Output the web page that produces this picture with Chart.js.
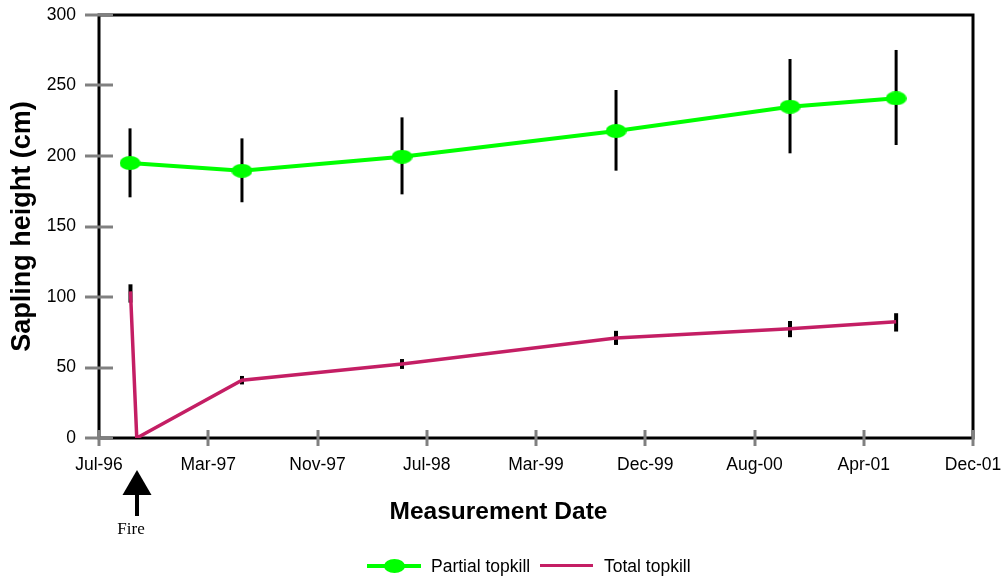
<!DOCTYPE html>
<html>
<head>
<meta charset="utf-8">
<script src="https://cdn.jsdelivr.net/npm/chart.js@4.4.1/dist/chart.umd.min.js"></script>
<style>
  html, body { margin: 0; padding: 0; background: #fff; }
  #wrap { position: relative; width: 1003px; height: 580px; }
  .leg { position: absolute; font-family: Arial, "Liberation Sans", sans-serif; font-size: 17.5px; color: #000; line-height: 20px; top: 556px; }
  .sw { position: absolute; }
</style>
</head>
<body>
<div id="wrap">
  <canvas id="chart" width="1003" height="580"></canvas>
  <div class="sw" style="left:367px;top:564px;width:54px;height:4px;background:#00ff00"></div>
  <div class="sw" style="left:384px;top:559px;width:21px;height:14px;border-radius:50%;background:#00ff00"></div>
  <div class="leg" style="left:431px">Partial topkill</div>
  <div class="sw" style="left:540px;top:564px;width:53px;height:3px;background:#c41e64"></div>
  <div class="leg" style="left:604px">Total topkill</div>
</div>
<script>
// x axis: days since Jul 1996, one tick every 243 days
const tickLabels = ['Jul-96', 'Mar-97', 'Nov-97', 'Jul-98', 'Mar-99', 'Dec-99', 'Aug-00', 'Apr-01', 'Dec-01'];
const tickStep = 243;

const partialDays = [69, 318, 674, 1150, 1537, 1773];
const partialHeight = [195, 189.5, 199.5, 217.7, 235, 240.9];
const partialLow = [170.7, 167.2, 172.8, 189.6, 201.9, 207.8];
const partialHigh = [219.6, 212.5, 227.4, 246.8, 268.8, 275.2];

const totalDays = [70, 84, 318, 674, 1150, 1537, 1773];
const totalHeight = [104, 0, 41, 52.5, 71, 77.5, 82.5];
const totalLow = [96, null, 38, 49, 66, 71.5, 75.5];
const totalHigh = [109, null, 44, 56, 76, 83, 88.5];

const fireDay = 84;
const xTitle = 'Measurement Date';

const GREEN = '#00ff00';
const RED = '#c41e64';
const GREY = '#808080';

// ellipse marker
const marker = document.createElement('canvas');
marker.width = 21; marker.height = 14;
{
  const m = marker.getContext('2d');
  m.fillStyle = GREEN;
  m.beginPath();
  m.ellipse(10.5, 7, 10.5, 7, 0, 0, Math.PI * 2);
  m.fill();
}

function toPoints(xs, ys) {
  return xs.map((x, i) => ({ x: x, y: ys[i] }));
}

const errorBars = [
  { days: partialDays, low: partialLow, high: partialHigh, width: 3 },
  { days: totalDays, low: totalLow, high: totalHigh, width: 4 }
];

const decorations = {
  id: 'decorations',
  beforeDatasetsDraw(chart) {
    const { ctx, chartArea: a, scales: { x, y } } = chart;
    ctx.save();
    // frame
    ctx.strokeStyle = '#000';
    ctx.lineWidth = 3;
    ctx.strokeRect(a.left, a.top, a.right - a.left, a.bottom - a.top);
    // tick marks crossing the axes
    ctx.strokeStyle = GREY;
    ctx.lineWidth = 3;
    y.ticks.forEach(t => {
      const py = Math.round(y.getPixelForValue(t.value));
      ctx.beginPath();
      ctx.moveTo(a.left - 14, py);
      ctx.lineTo(a.left + 14, py);
      ctx.stroke();
    });
    x.ticks.forEach(t => {
      const px = Math.round(x.getPixelForValue(t.value));
      ctx.beginPath();
      ctx.moveTo(px, a.bottom - 8);
      ctx.lineTo(px, a.bottom + 8);
      ctx.stroke();
    });
    // error bars
    ctx.strokeStyle = '#000';
    errorBars.forEach(set => {
      ctx.lineWidth = set.width;
      set.days.forEach((d, i) => {
        if (set.low[i] == null) return;
        const px = x.getPixelForValue(d);
        ctx.beginPath();
        ctx.moveTo(px, y.getPixelForValue(set.low[i]));
        ctx.lineTo(px, y.getPixelForValue(set.high[i]));
        ctx.stroke();
      });
    });
    ctx.restore();
  },
  afterDraw(chart) {
    const { ctx, scales: { x } } = chart;
    const fx = Math.round(x.getPixelForValue(fireDay));
    ctx.save();
    ctx.fillStyle = '#000';
    // x axis title, centred on the page rather than the plot
    ctx.font = 'bold 24.5px Arial, "Liberation Sans", sans-serif';
    ctx.textAlign = 'center';
    ctx.textBaseline = 'middle';
    ctx.fillText(xTitle, chart.width / 2 - 3, 512);
    // fire arrow
    ctx.beginPath();
    ctx.moveTo(fx, 470);
    ctx.lineTo(fx + 14.5, 495);
    ctx.lineTo(fx - 14.5, 495);
    ctx.closePath();
    ctx.fill();
    ctx.fillRect(fx - 2, 494, 4, 22);
    ctx.font = '17px "Liberation Serif", "Times New Roman", serif';
    ctx.textBaseline = 'alphabetic';
    ctx.fillText('Fire', fx - 6, 534);
    ctx.restore();
  }
};

const ctx = document.getElementById('chart').getContext('2d');

const myChart = new Chart(ctx, {
  type: 'line',
  data: {
    datasets: [
      {
        label: 'Partial topkill',
        data: toPoints(partialDays, partialHeight),
        borderColor: GREEN,
        backgroundColor: GREEN,
        borderWidth: 4,
        pointStyle: marker,
        pointRadius: 10,
        tension: 0
      },
      {
        label: 'Total topkill',
        data: toPoints(totalDays, totalHeight),
        borderColor: RED,
        backgroundColor: RED,
        borderWidth: 3.5,
        pointRadius: 0,
        tension: 0
      }
    ]
  },
  options: {
    responsive: false,
    animation: false,
    layout: { padding: { left: 6, top: 15, right: 30, bottom: 55 } },
    plugins: {
      legend: { display: false },
      tooltip: { enabled: false }
    },
    scales: {
      x: {
        type: 'linear',
        min: 0,
        max: tickStep * (tickLabels.length - 1),
        afterBuildTicks(scale) {
          scale.ticks = tickLabels.map((_, i) => ({ value: i * tickStep }));
        },
        afterFit(scale) {
          scale.height = 87;
          scale.paddingLeft = 0;
          scale.paddingRight = 0;
        },
        grid: { display: false, drawTicks: true, tickLength: 8 },
        border: { display: false },
        ticks: {
          color: '#000',
          padding: 9,
          maxRotation: 0,
          autoSkip: false,
          font: { family: 'Arial, "Liberation Sans", sans-serif', size: 17.5 },
          callback: (v) => tickLabels[Math.round(v / tickStep)]
        }
      },
      y: {
        min: 0,
        max: 300,
        afterFit(scale) {
          scale.width = 93;
          scale.paddingTop = 0;
          scale.paddingBottom = 0;
        },
        grid: { display: false, drawTicks: true, tickLength: 14 },
        border: { display: false },
        ticks: {
          stepSize: 50,
          color: '#000',
          padding: 9,
          font: { family: 'Arial, "Liberation Sans", sans-serif', size: 17.5 }
        },
        title: {
          display: true,
          text: 'Sapling height (cm)',
          color: '#000',
          padding: { top: 0, bottom: 0 },
          font: { family: 'Arial, "Liberation Sans", sans-serif', size: 27, weight: 'bold' }
        }
      }
    }
  },
  plugins: [decorations]
});
</script>
</body>
</html>
